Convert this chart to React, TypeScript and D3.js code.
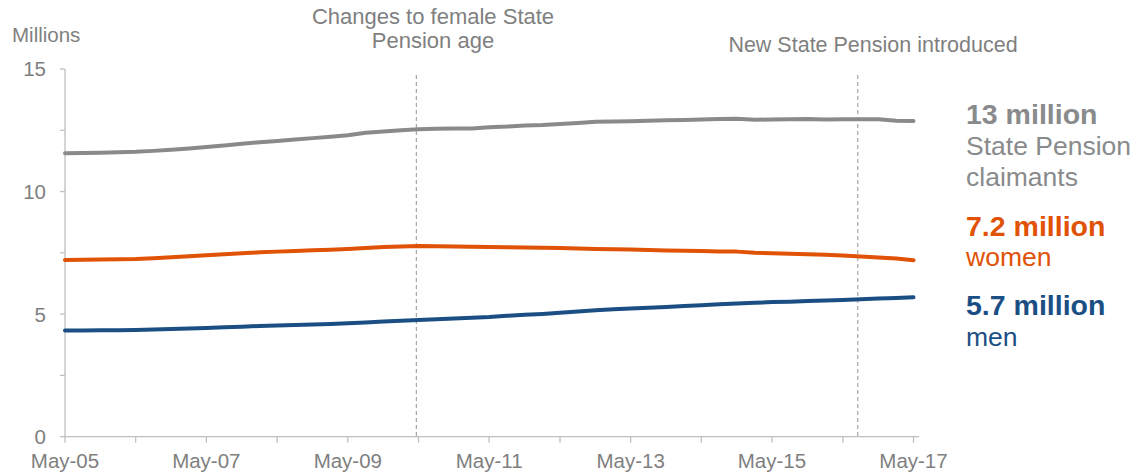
import React from "react";
import * as d3 from "d3";

// Quarterly observations, May 2005 to May 2017 (millions)
const startMonth = new Date(2005, 4, 1);
const endMonth = new Date(2017, 4, 1);
const quarters: Date[] = d3.timeMonth.range(startMonth, new Date(2017, 4, 2), 3);

const totalClaimants = [
  11.56, 11.57, 11.58, 11.60, 11.62, 11.66, 11.71, 11.76, 11.82, 11.88,
  11.95, 12.01, 12.06, 12.12, 12.18, 12.24, 12.30, 12.40, 12.45, 12.50,
  12.54, 12.56, 12.57, 12.57, 12.62, 12.65, 12.70, 12.72, 12.76, 12.80,
  12.85, 12.86, 12.87, 12.89, 12.91, 12.92, 12.94, 12.96, 12.97, 12.93,
  12.94, 12.95, 12.96, 12.94, 12.95, 12.95, 12.95, 12.89, 12.88,
];
const women = [
  7.21, 7.22, 7.23, 7.24, 7.25, 7.28, 7.32, 7.36, 7.40, 7.44,
  7.48, 7.52, 7.55, 7.58, 7.61, 7.63, 7.66, 7.70, 7.74, 7.76,
  7.78, 7.77, 7.76, 7.75, 7.74, 7.73, 7.72, 7.71, 7.70, 7.68,
  7.66, 7.65, 7.64, 7.62, 7.60, 7.59, 7.58, 7.56, 7.55, 7.50,
  7.48, 7.46, 7.44, 7.42, 7.39, 7.35, 7.31, 7.27, 7.20,
];
const men = [
  4.33, 4.33, 4.34, 4.34, 4.35, 4.37, 4.39, 4.41, 4.43, 4.46,
  4.49, 4.52, 4.54, 4.56, 4.58, 4.60, 4.63, 4.66, 4.70, 4.73,
  4.76, 4.79, 4.82, 4.85, 4.88, 4.93, 4.97, 5.01, 5.06, 5.11,
  5.16, 5.20, 5.23, 5.26, 5.29, 5.33, 5.36, 5.40, 5.43, 5.46,
  5.49, 5.51, 5.54, 5.56, 5.58, 5.61, 5.64, 5.66, 5.69,
];

const yTickValues = [0, 5, 10, 15];
const yMinorTicks = [0, 2.5, 5, 7.5, 10, 12.5, 15];
const xLabelYears = [2005, 2007, 2009, 2011, 2013, 2015, 2017];

const events = [
  { date: new Date(2010, 3, 20), lines: ["Changes to female State", "Pension age"], labelX: 433, baselines: [24, 48], size: 22 },
  { date: new Date(2016, 6, 17), lines: ["New State Pension introduced"], labelX: 873, baselines: [52], size: 21.5 },
];

const seriesList = [
  { name: "total", values: totalClaimants, color: "#898A8C", headline: "13 million", sub: ["State Pension", "claimants"], headY: 124, subY: [155, 186] },
  { name: "women", values: women, color: "#E05206", headline: "7.2 million", sub: ["women"], headY: 236, subY: [266] },
  { name: "men", values: men, color: "#1B4F84", headline: "5.7 million", sub: ["men"], headY: 315, subY: [346] },
];

const FONT = "'Liberation Sans', Arial, sans-serif";
const TEXT_GREY = "#7F7F7F";
const AXIS_GREY = "#BFBFBF";

export default function App() {
  const width = 1135;
  const height = 474;
  const x0 = 65;
  const x1 = 913.5;
  const yBottom = 436.7;
  const yTop = 69;

  const x = d3.scaleTime().domain([startMonth, endMonth]).range([x0, x1]);
  const y = d3.scaleLinear().domain([0, 15]).range([yBottom, yTop]);

  const line = d3
    .line<number>()
    .x((_, i) => x(quarters[i]))
    .y((d) => y(d))
    .curve(d3.curveLinear);

  const yearTicks = d3.timeMonth.range(startMonth, new Date(2017, 4, 2), 12);

  return (
    <svg
      width={width}
      height={height}
      style={{ position: "absolute", left: 0, top: 0, background: "#fff" }}
      fontFamily={FONT}
    >
      {/* Y axis */}
      <line x1={x0} x2={x0} y1={y(15)} y2={yBottom} stroke={AXIS_GREY} strokeWidth={1.3} />
      {yMinorTicks.map((t) => (
        <line key={"ym" + t} x1={x0 - 5} x2={x0} y1={y(t)} y2={y(t)} stroke={AXIS_GREY} strokeWidth={1.3} />
      ))}
      {yTickValues.map((t) => (
        <text
          key={"yl" + t}
          x={46}
          y={y(t)}
          dy="0.36em"
          textAnchor="end"
          fontSize={20.5}
          fill={TEXT_GREY}
        >
          {t}
        </text>
      ))}
      <text x={12} y={42} fontSize={20.5} fill={TEXT_GREY}>
        Millions
      </text>

      {/* X axis */}
      <line x1={x0} x2={919} y1={yBottom} y2={yBottom} stroke={AXIS_GREY} strokeWidth={1.3} />
      {yearTicks.map((d) => (
        <line
          key={"xt" + d.getFullYear()}
          x1={x(d)}
          x2={x(d)}
          y1={yBottom}
          y2={yBottom + 6}
          stroke={AXIS_GREY}
          strokeWidth={1.3}
        />
      ))}
      {xLabelYears.map((yr) => (
        <text
          key={"xl" + yr}
          x={x(new Date(yr, 4, 1))}
          y={468}
          textAnchor="middle"
          fontSize={20.5}
          fill={TEXT_GREY}
        >
          {"May-" + String(yr).slice(2)}
        </text>
      ))}

      {/* Event markers */}
      {events.map((ev, i) => (
        <g key={"ev" + i}>
          <line
            x1={x(ev.date)}
            x2={x(ev.date)}
            y1={75}
            y2={yBottom}
            stroke="#A6A6A6"
            strokeWidth={1.2}
            strokeDasharray="4 3"
          />
          {ev.lines.map((t, j) => (
            <text
              key={j}
              x={ev.labelX}
              y={ev.baselines[j]}
              textAnchor="middle"
              fontSize={ev.size}
              fill={TEXT_GREY}
            >
              {t}
            </text>
          ))}
        </g>
      ))}

      {/* Lines */}
      {seriesList.map((s) => (
        <path
          key={s.name}
          d={line(s.values) || ""}
          fill="none"
          stroke={s.color}
          strokeWidth={4}
          strokeLinejoin="round"
          strokeLinecap="round"
        />
      ))}

      {/* Right-hand labels */}
      {seriesList.map((s) => (
        <g key={"lab" + s.name}>
          <text x={966} y={s.headY} fontSize={28.5} fontWeight="bold" fill={s.color}>
            {s.headline}
          </text>
          {s.sub.map((t, j) => (
            <text key={j} x={966} y={s.subY[j]} fontSize={26.5} fill={s.color}>
              {t}
            </text>
          ))}
        </g>
      ))}
    </svg>
  );
}
